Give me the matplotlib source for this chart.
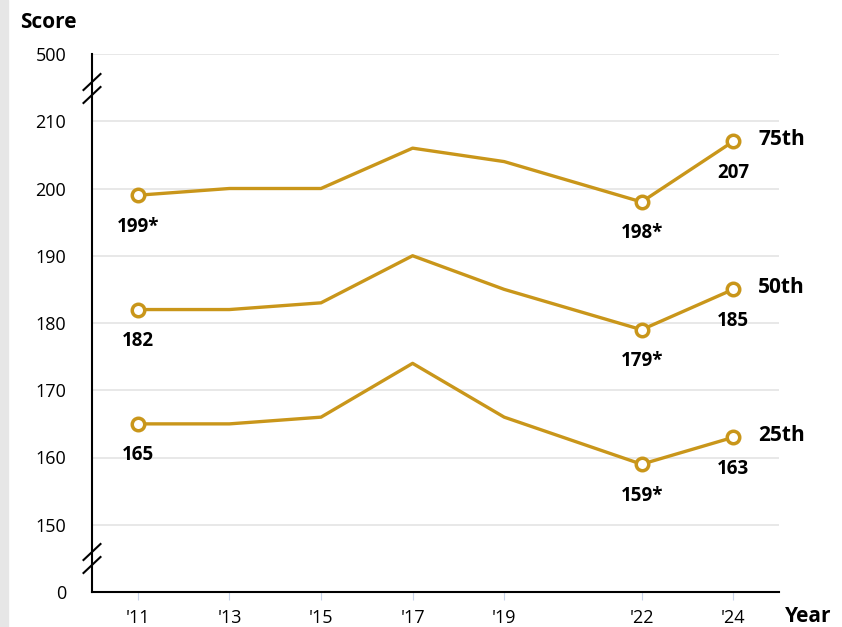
import matplotlib
matplotlib.use('Agg')
from matplotlib import pyplot as plt
from matplotlib.lines import Line2D
from matplotlib.patches import Rectangle
import numpy as np

plt.rcParams['font.family'] = ['Open Sans', 'DejaVu Sans']

years = [11, 13, 15, 17, 19, 22, 24]
year_labels = ["'11", "'13", "'15", "'17", "'19", "'22", "'24"]
p75 = [199, 200, 200, 206, 204, 198, 207]
p50 = [182, 182, 183, 190, 185, 179, 185]
p25 = [165, 165, 166, 174, 166, 159, 163]
series = {'75th': p75, '50th': p50, '25th': p25}
marked = [11, 22, 24]
star = {('75th', 11): '199*', ('75th', 22): '198*', ('50th', 22): '179*', ('25th', 22): '159*'}
ytick_vals = [0, 150, 160, 170, 180, 190, 200, 210, 500]

gold = '#C9961A'

# broken axis: 0 -> 0, 150..210 linear, 500 -> 8
def ypos(v):
    v = np.asarray(v, dtype=float)
    out = (v - 140) / 10.0
    out = np.where(v == 0, 0, out)
    out = np.where(v == 500, 8, out)
    return out

fig = plt.figure(figsize=(8.42, 6.27), dpi=100)
fig.patches.append(Rectangle((0, 0), 8/842, 1, transform=fig.transFigure,
                             color='#e6e6e6', zorder=0))
ax = fig.add_axes([92/842, 1 - 592/627, (779-92)/842, (592-54)/627])

ax.set_xlim(10, 25)
ax.set_ylim(0, 8)
ax.set_yticks(ypos(ytick_vals))
ax.set_yticklabels([str(v) for v in ytick_vals], fontsize=13)
ax.set_xticks(years)
ax.set_xticklabels(year_labels, fontsize=13)
ax.tick_params(axis='y', length=0, pad=18.5)
ax.tick_params(axis='x', length=6, color='#c8d4ea', pad=6)

for yy in ypos(ytick_vals)[1:]:
    ax.axhline(yy, color='#e4e4e4', lw=1.2, zorder=0)

for s in ['top', 'right']:
    ax.spines[s].set_visible(False)
ax.spines['left'].set_linewidth(1.5)
ax.spines['bottom'].set_linewidth(1.5)

for name, vals in series.items():
    yv = ypos(vals)
    ax.plot(years, yv, color=gold, lw=2.4, zorder=3)
    for x, v, y in zip(years, vals, yv):
        if x in marked:
            ax.plot(x, y, 'o', ms=9, mfc='white', mec=gold, mew=2.5, zorder=4)
            lab = star.get((name, x), str(v))
            ax.text(x, y - 0.32, lab, ha='center', va='top', fontsize=13.5,
                    fontweight='bold', zorder=5)
    ax.text(24.55, yv[-1] + 0.03, name, ha='left', va='center', fontsize=15,
            fontweight='bold')

# break marks on the y-axis
def brk(y_center_px):
    yc = (592 - y_center_px) / (592 - 54)
    ax.add_line(Line2D([-8.5/687, 8.5/687], [yc - 8/538, yc + 8/538], transform=ax.transAxes,
                       color='black', lw=1.5, clip_on=False))
for ypx in [82, 95, 552, 565]:
    brk(ypx)

fig.text(20/842, 1 - 22/627, 'Score', fontsize=15, fontweight='bold', ha='left', va='center')
fig.text(785/842, 1 - 617/627, 'Year', fontsize=15, fontweight='bold', ha='left', va='center')

fig.savefig('out.png', dpi=100)
